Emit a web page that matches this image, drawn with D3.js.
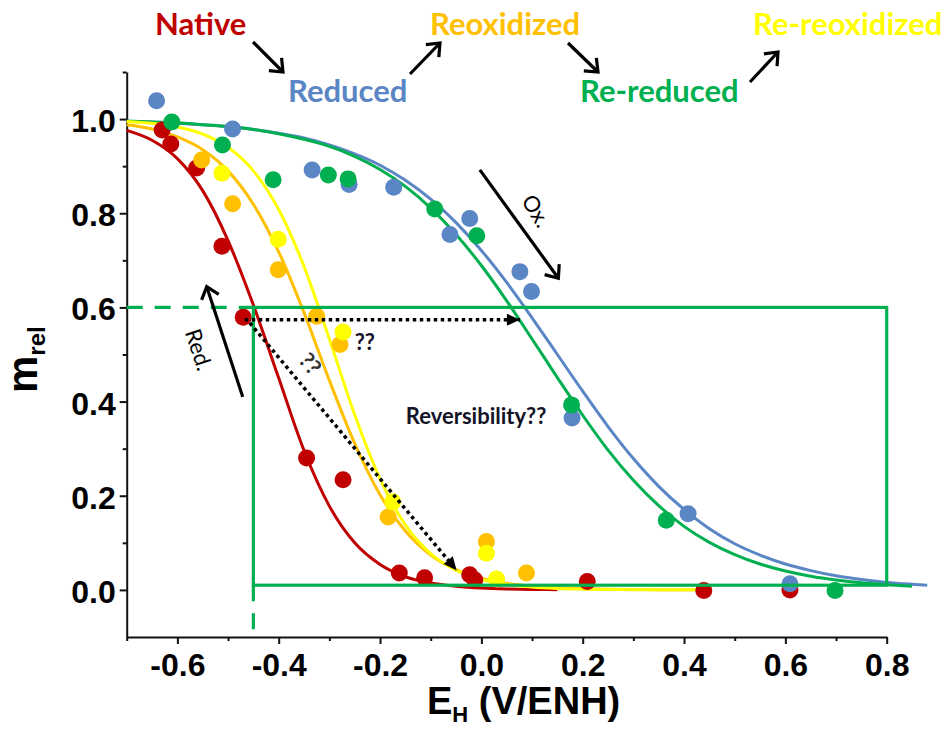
<!DOCTYPE html>
<html><head><meta charset="utf-8">
<script src="https://cdn.jsdelivr.net/npm/d3@7"></script>
<style>
html,body{margin:0;padding:0;background:#fff;}
svg{display:block;}
</style></head>
<body>
<svg id="chart" width="945" height="729"></svg>
<script>
// ---------------- data ----------------
const xMajor = [-0.6, -0.4, -0.2, 0.0, 0.2, 0.4, 0.6, 0.8];
const xTickLabels = ["-0.6", "-0.4", "-0.2", "0.0", "0.2", "0.4", "0.6", "0.8"];
const xMinor = [-0.7, -0.5, -0.3, -0.1, 0.1, 0.3, 0.5, 0.7];
const yMajor = [0.0, 0.2, 0.4, 0.6, 0.8, 1.0];
const yTickLabels = ["0.0", "0.2", "0.4", "0.6", "0.8", "1.0"];
const yMinor = [0.1, 0.3, 0.5, 0.7, 0.9, 1.1];

const seriesNames = ["Native", "Reduced", "Reoxidized", "Re-reduced", "Re-reoxidized"];
const seriesColors = ["#c00000", "#5a86c5", "#ffc000", "#00b050", "#ffff00"];

// measured points (E_H, m_rel)
const nativeE   = [-0.630, -0.613, -0.562, -0.512, -0.470, -0.345, -0.273, -0.162, -0.112, -0.023, -0.013, 0.209, 0.439, 0.609];
const nativeM   = [0.977, 0.947, 0.896, 0.730, 0.579, 0.280, 0.234, 0.036, 0.026, 0.032, 0.021, 0.018, -0.001, 0.000];
const reducedE  = [-0.641, -0.491, -0.334, -0.261, -0.173, -0.062, -0.023, 0.076, 0.099, 0.179, 0.408, 0.609];
const reducedM  = [1.039, 0.979, 0.892, 0.861, 0.855, 0.755, 0.789, 0.676, 0.634, 0.365, 0.162, 0.013];
const reoxE     = [-0.552, -0.491, -0.401, -0.325, -0.279, -0.184, 0.010, 0.089];
const reoxM     = [0.913, 0.820, 0.680, 0.581, 0.521, 0.155, 0.103, 0.036];
const rereducedE = [-0.611, -0.511, -0.411, -0.302, -0.263, -0.092, -0.009, 0.178, 0.365, 0.698];
const rereducedM = [0.994, 0.945, 0.871, 0.881, 0.873, 0.809, 0.752, 0.393, 0.148, -0.001];
const rereoxE   = [-0.512, -0.401, -0.273, -0.175, 0.010, 0.030];
const rereoxM   = [0.885, 0.745, 0.548, 0.187, 0.078, 0.023];

// fitted curves on a common potential grid
const fitE = [-0.70, -0.65, -0.60, -0.55, -0.50, -0.45, -0.40, -0.35, -0.30, -0.25, -0.20, -0.15, -0.10, -0.05,
              0.00, 0.05, 0.10, 0.15, 0.20, 0.25, 0.30, 0.35, 0.40, 0.45, 0.50, 0.55, 0.60, 0.65, 0.70, 0.75, 0.80, 0.85, 0.88];
const nativeFit = [0.976, 0.955, 0.916, 0.848, 0.742, 0.605, 0.450, 0.296, 0.178, 0.100, 0.054, 0.028, 0.015, 0.008,
                   0.004, 0.002, 0.001, 0.0005];
const reducedFit = [0.995, 0.994, 0.991, 0.988, 0.984, 0.978, 0.970, 0.960, 0.945, 0.926, 0.902, 0.870, 0.830, 0.780,
                    0.721, 0.653, 0.578, 0.500, 0.422, 0.347, 0.279, 0.220, 0.171, 0.130, 0.098, 0.074, 0.055, 0.041,
                    0.030, 0.022, 0.016, 0.012, 0.010];
const reoxFit = [0.988, 0.979, 0.962, 0.935, 0.890, 0.819, 0.718, 0.589, 0.445, 0.311, 0.202, 0.125, 0.074, 0.043,
                 0.025, 0.014, 0.008, 0.0045, 0.0025, 0.0014, 0.0008, 0.0005, 0.0003, 0.0002];
const rereducedFit = [0.996, 0.994, 0.992, 0.988, 0.984, 0.978, 0.969, 0.957, 0.942, 0.921, 0.893, 0.857, 0.811, 0.755,
                      0.689, 0.614, 0.533, 0.451, 0.371, 0.297, 0.233, 0.179, 0.135, 0.101, 0.075, 0.055, 0.040, 0.029,
                      0.021, 0.015, 0.011, 0.008];
const rereoxFit = [0.995, 0.991, 0.983, 0.968, 0.940, 0.890, 0.808, 0.687, 0.533, 0.372, 0.236, 0.138, 0.077, 0.042,
                   0.022, 0.012, 0.006, 0.003, 0.0017, 0.0009, 0.0005, 0.0002, 0.0001, 0.0001];

// ---------------- drawing ----------------
const svg = d3.select("#chart");
const x = d3.scaleLinear().domain([-0.7, 0.8]).range([126.7, 886.7]);
const y = d3.scaleLinear().domain([-0.1, 1.1]).range([637, 72]);

const defs = svg.append("defs");
defs.append("marker").attr("id", "chev").attr("markerUnits", "userSpaceOnUse")
  .attr("viewBox", "-16 -12 20 24").attr("markerWidth", 20).attr("markerHeight", 24)
  .attr("refX", 0).attr("refY", 0).attr("orient", "auto")
  .append("path").attr("d", "M-11,-9 L0,0 L-11,9").attr("fill", "none")
  .attr("stroke", "#000").attr("stroke-width", 3.2).attr("stroke-linejoin", "miter");
defs.append("marker").attr("id", "tri").attr("markerUnits", "userSpaceOnUse")
  .attr("viewBox", "-14 -8 16 16").attr("markerWidth", 16).attr("markerHeight", 16)
  .attr("refX", 0).attr("refY", 0).attr("orient", "auto")
  .append("path").attr("d", "M-13,-6 L0,0 L-13,6 Z").attr("fill", "#000");

// axes
const axisFont = "'Liberation Sans', Arial, sans-serif";
const gx = svg.append("g").attr("transform", `translate(0,${y(-0.1)})`);
gx.call(d3.axisBottom(x).tickValues(xMajor).tickSize(7).tickSizeOuter(0)
  .tickFormat((d, i) => xTickLabels[i]));
gx.select(".domain").attr("stroke", "#111").attr("stroke-width", 2);
gx.selectAll(".tick line").attr("stroke", "#111").attr("stroke-width", 2);
gx.selectAll(".tick text").attr("font-family", axisFont).attr("font-weight", "bold")
  .attr("font-size", 32).attr("fill", "#000").attr("y", 16).attr("dy", "0.71em");
const gxm = svg.append("g").attr("transform", `translate(0,${y(-0.1)})`);
gxm.call(d3.axisBottom(x).tickValues(xMinor).tickSize(4).tickSizeOuter(0).tickFormat(""));
gxm.select(".domain").remove();
gxm.selectAll(".tick line").attr("stroke", "#111").attr("stroke-width", 2);

const gy = svg.append("g").attr("transform", `translate(${x(-0.7)},0)`);
gy.call(d3.axisLeft(y).tickValues(yMajor).tickSize(7).tickSizeOuter(0)
  .tickFormat((d, i) => yTickLabels[i]));
gy.select(".domain").attr("stroke", "#111").attr("stroke-width", 2);
gy.selectAll(".tick line").attr("stroke", "#111").attr("stroke-width", 2);
gy.selectAll(".tick text").attr("font-family", axisFont).attr("font-weight", "bold")
  .attr("font-size", 32).attr("fill", "#000").attr("x", -11).attr("dy", "0.39em");
const gym = svg.append("g").attr("transform", `translate(${x(-0.7)},0)`);
gym.call(d3.axisLeft(y).tickValues(yMinor).tickSize(4).tickSizeOuter(0).tickFormat(""));
gym.select(".domain").remove();
gym.selectAll(".tick line").attr("stroke", "#111").attr("stroke-width", 2);

// axis titles
const xt = svg.append("text").attr("x", 427).attr("y", 714)
  .attr("font-family", axisFont).attr("font-weight", "bold").attr("font-size", 38).attr("fill", "#000");
xt.append("tspan").text("E");
xt.append("tspan").attr("font-size", 22).attr("dy", 8).text("H");
xt.append("tspan").attr("dy", -8).text(" (V/ENH)");

const yt = svg.append("text").attr("transform", "translate(37,393) rotate(-90)")
  .attr("font-family", axisFont).attr("font-weight", "bold").attr("font-size", 42).attr("fill", "#000");
yt.append("tspan").text("m");
yt.append("tspan").attr("font-size", 24).attr("dy", 8).text("rel");

// fitted curves
const line = d3.line().x(d => x(d[0])).y(d => y(d[1])).curve(d3.curveMonotoneX);
const fits = [
  {fit: reducedFit, c: seriesColors[1]},
  {fit: rereducedFit, c: seriesColors[3]},
  {fit: nativeFit, c: seriesColors[0]},
  {fit: reoxFit, c: seriesColors[2]},
  {fit: rereoxFit, c: seriesColors[4]}
];
fits.forEach(f => {
  const pts = f.fit.map((m, i) => [fitE[i], m]);
  svg.append("path").attr("d", line(pts)).attr("fill", "none")
    .attr("stroke", f.c).attr("stroke-width", 3);
});

// points
const pointSets = [
  {e: nativeE, m: nativeM, c: seriesColors[0]},
  {e: reoxE, m: reoxM, c: seriesColors[2]},
  {e: rereoxE, m: rereoxM, c: seriesColors[4]},
  {e: reducedE, m: reducedM, c: seriesColors[1]},
  {e: rereducedE, m: rereducedM, c: seriesColors[3]}
];
pointSets.forEach(p => {
  svg.append("g").selectAll("circle").data(p.e.map((e, i) => [e, p.m[i]])).join("circle")
    .attr("cx", d => x(d[0])).attr("cy", d => y(d[1])).attr("r", 8.5).attr("fill", p.c);
});

// annotations: green box + dashed guides
const green = "#00b050";
const box = {x0: -0.45, x1: 0.8, y0: 0.01, y1: 0.6};
svg.append("rect").attr("x", x(box.x0)).attr("y", y(box.y1))
  .attr("width", x(box.x1) - x(box.x0)).attr("height", y(box.y0) - y(box.y1))
  .attr("fill", "none").attr("stroke", green).attr("stroke-width", 3.2);
svg.append("line").attr("x1", x(-0.7)).attr("x2", x(box.x0)).attr("y1", y(box.y1)).attr("y2", y(box.y1))
  .attr("stroke", green).attr("stroke-width", 3.2).attr("stroke-dasharray", "16,12");
svg.append("line").attr("x1", x(box.x0)).attr("x2", x(box.x0)).attr("y1", y(box.y0)).attr("y2", y(-0.1))
  .attr("stroke", green).attr("stroke-width", 3.2).attr("stroke-dasharray", "16,12");

// dotted arrows
svg.append("line").attr("x1", x(-0.467)).attr("y1", y(0.574)).attr("x2", x(0.076)).attr("y2", y(0.574))
  .attr("stroke", "#000").attr("stroke-width", 3.5).attr("stroke-dasharray", "3.5,3.5").attr("marker-end", "url(#tri)");
svg.append("line").attr("x1", x(-0.457)).attr("y1", y(0.567)).attr("x2", x(-0.049)).attr("y2", y(0.042))
  .attr("stroke", "#000").attr("stroke-width", 3.5).attr("stroke-dasharray", "3.5,3.5").attr("marker-end", "url(#tri)");

const noteFont = "Lato, 'Open Sans', sans-serif";
svg.append("text").attr("x", x(-0.25)).attr("y", y(0.51)).attr("font-family", noteFont)
  .attr("font-weight", "bold").attr("font-size", 22).attr("fill", "#141428").text("??");
svg.append("text").attr("transform", `translate(${x(-0.338)},${y(0.48)}) rotate(50)`)
  .attr("text-anchor", "middle").attr("dy", "0.35em").attr("font-family", noteFont)
  .attr("font-weight", "bold").attr("font-size", 22).attr("fill", "#333").text("??");
svg.append("text").attr("x", x(-0.149)).attr("y", y(0.352)).attr("font-family", noteFont)
  .attr("font-weight", "bold").attr("font-size", 22).attr("fill", "#141428").text("Reversibility??");

// Ox. / Red. arrows
svg.append("line").attr("x1", x(-0.003)).attr("y1", y(0.892)).attr("x2", x(0.152)).attr("y2", y(0.662))
  .attr("stroke", "#000").attr("stroke-width", 3.2).attr("marker-end", "url(#chev)");
svg.append("text").attr("transform", `translate(${x(0.108)},${y(0.805)}) rotate(58)`)
  .attr("text-anchor", "middle").attr("dy", "0.35em").attr("font-family", noteFont)
  .attr("font-size", 22).attr("fill", "#000").text("Ox.");
svg.append("line").attr("x1", x(-0.471)).attr("y1", y(0.41)).attr("x2", x(-0.542)).attr("y2", y(0.644))
  .attr("stroke", "#000").attr("stroke-width", 3.2).attr("marker-end", "url(#chev)");
svg.append("text").attr("transform", `translate(${x(-0.558)},${y(0.51)}) rotate(72)`)
  .attr("text-anchor", "middle").attr("dy", "0.35em").attr("font-family", noteFont)
  .attr("font-size", 22).attr("fill", "#000").text("Red.");

// header sequence labels
const headerPos = [[155, 35], [288, 102], [430, 35], [580, 102], [753, 35]];
seriesNames.forEach((n, i) => {
  svg.append("text").attr("x", headerPos[i][0]).attr("y", headerPos[i][1])
    .attr("font-family", noteFont).attr("font-weight", "bold").attr("font-size", 31)
    .attr("fill", seriesColors[i]).text(n);
});
const headerArrows = [[253, 42, 283, 72], [410, 74, 440, 43], [568, 43, 598, 72], [750, 82, 778, 52]];
headerArrows.forEach(a => {
  svg.append("line").attr("x1", a[0]).attr("y1", a[1]).attr("x2", a[2]).attr("y2", a[3])
    .attr("stroke", "#000").attr("stroke-width", 3.2).attr("marker-end", "url(#chev)");
});
</script>
</body></html>
